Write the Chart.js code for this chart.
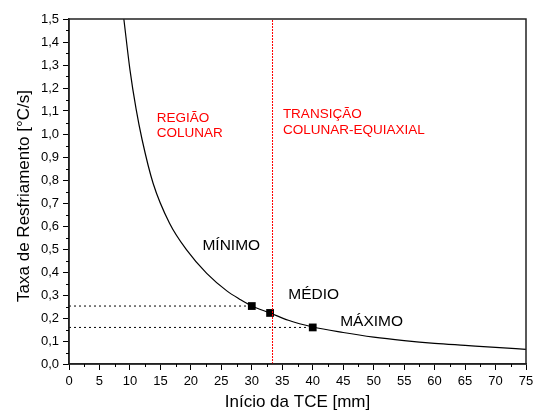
<!DOCTYPE html>
<html>
<head>
<meta charset="utf-8">
<script src="https://cdn.jsdelivr.net/npm/chart.js@4"></script>
<style>
  html, body { margin: 0; padding: 0; background: #fff; }
  #chart { width: 539px; height: 416px; }
</style>
</head>
<body>
<div id="chart"><canvas id="c" width="539" height="416"></canvas></div>
<script>
// curve
const curveX = [9, 10, 11, 12, 13.8, 16.5, 19.3, 22.6, 25.9, 28, 30, 33, 36, 40, 45, 50, 55, 60, 65, 70, 75];
const curveY = [1.50, 1.28, 1.11, 0.975, 0.786, 0.612, 0.496, 0.394, 0.318, 0.282, 0.252, 0.222, 0.19, 0.161, 0.137, 0.117, 0.102, 0.09, 0.081, 0.072, 0.064];

// MÍNIMO, MÉDIO, MÁXIMO
const pointX = [30, 33, 40];
const pointY = [0.252, 0.222, 0.159];

const transitionX = 33.4;
const xRange = [0, 75];
const yRange = [0, 1.5];

const regionLabels = [
  { lines: ['REGIÃO', 'COLUNAR'], x: 14.4, y: 1.054, color: '#ff0000', size: 13.5 },
  { lines: ['TRANSIÇÃO', 'COLUNAR-EQUIAXIAL'], x: 35.1, y: 1.068, color: '#ff0000', size: 13.5 },
  { lines: ['MÍNIMO'], x: 21.9, y: 0.496, color: '#000', size: 15.5 },
  { lines: ['MÉDIO'], x: 36.0, y: 0.283, color: '#000', size: 15.5 },
  { lines: ['MÁXIMO'], x: 44.5, y: 0.165, color: '#000', size: 15.5 }
];

const yTitle = 'Taxa de Resfriamento [°C/s]';
const FONT = '"Liberation Sans", Arial, sans-serif';

// frame, minor ticks, y title and text annotations
const extrasPlugin = {
  id: 'extras',
  afterDraw(chart) {
    const { ctx, chartArea: a, scales: { x, y } } = chart;
    ctx.save();
    ctx.strokeStyle = '#222';
    ctx.lineWidth = 1.5;
    ctx.strokeRect(a.left, a.top, a.right - a.left, a.bottom - a.top);

    // minor ticks
    ctx.lineWidth = 1;
    ctx.strokeStyle = '#000';
    ctx.beginPath();
    for (let v = 2.5; v < xRange[1]; v += 5) {
      const px = Math.round(x.getPixelForValue(v)) + 0.5;
      ctx.moveTo(px, a.bottom);
      ctx.lineTo(px, a.bottom + 3);
    }
    for (let v = 0.05; v < yRange[1]; v += 0.1) {
      const py = Math.round(y.getPixelForValue(v)) + 0.5;
      ctx.moveTo(a.left, py);
      ctx.lineTo(a.left - 3, py);
    }
    ctx.stroke();

    // y title, sits a bit below the middle in the original
    ctx.save();
    ctx.translate(29, 196);
    ctx.rotate(-Math.PI / 2);
    ctx.fillStyle = '#000';
    ctx.font = `17px ${FONT}`;
    ctx.textAlign = 'center';
    ctx.textBaseline = 'alphabetic';
    ctx.fillText(yTitle, 0, 0);
    ctx.restore();

    // labels
    ctx.textAlign = 'left';
    ctx.textBaseline = 'alphabetic';
    regionLabels.forEach(l => {
      ctx.fillStyle = l.color;
      ctx.font = `${l.size}px ${FONT}`;
      const px = x.getPixelForValue(l.x);
      const py = y.getPixelForValue(l.y);
      l.lines.forEach((t, i) => ctx.fillText(t, px, py + i * 15.5));
    });
    ctx.restore();
  }
};

const curve = curveX.map((v, i) => ({ x: v, y: curveY[i] }));
const points = pointX.map((v, i) => ({ x: v, y: pointY[i] }));

new Chart(document.getElementById('c'), {
  type: 'scatter',
  data: {
    datasets: [
      {
        label: 'nível mínimo',
        data: [{ x: xRange[0], y: pointY[0] }, points[0]],
        showLine: true,
        borderColor: '#000',
        borderWidth: 1,
        borderDash: [2, 3],
        pointRadius: 0
      },
      {
        label: 'nível máximo',
        data: [{ x: xRange[0], y: pointY[2] }, points[2]],
        showLine: true,
        borderColor: '#000',
        borderWidth: 1,
        borderDash: [2, 3],
        pointRadius: 0
      },
      {
        label: 'transição',
        data: [{ x: transitionX, y: yRange[0] }, { x: transitionX, y: yRange[1] }],
        showLine: true,
        borderColor: 'rgb(255, 0, 0)',
        backgroundColor: 'rgb(255, 0, 0)',
        borderWidth: 1,
        borderDash: [2, 1],
        pointRadius: 0
      },
      {
        label: 'curva',
        data: curve,
        showLine: true,
        borderColor: '#000',
        borderWidth: 1.2,
        cubicInterpolationMode: 'monotone',
        pointRadius: 0
      },
      {
        label: 'pontos',
        data: points,
        pointStyle: 'rect',
        pointRadius: 5.5,
        backgroundColor: '#000',
        borderColor: '#000',
        borderWidth: 0
      }
    ]
  },
  options: {
    responsive: false,
    animation: false,
    layout: { padding: { left: 0, top: 19, right: 13, bottom: 0 } },
    plugins: {
      legend: { display: false },
      tooltip: { enabled: false }
    },
    scales: {
      x: {
        type: 'linear',
        min: xRange[0],
        max: xRange[1],
        afterFit: s => { s.height = 52; },
        ticks: {
          stepSize: 5,
          color: '#000',
          padding: 4,
          maxRotation: 0,
          font: { family: FONT, size: 13 }
        },
        grid: { drawOnChartArea: false, tickLength: 6, tickColor: '#000' },
        border: { color: '#222', width: 1.5 },
        title: {
          display: true,
          text: 'Início da TCE [mm]',
          color: '#000',
          font: { family: FONT, size: 17 },
          padding: { top: 0, bottom: 3 }
        }
      },
      y: {
        min: yRange[0],
        max: yRange[1],
        afterFit: s => { s.width = 69; },
        ticks: {
          stepSize: 0.1,
          color: '#000',
          padding: 4,
          font: { family: FONT, size: 13 },
          callback: v => v.toFixed(1).replace('.', ',')
        },
        grid: { drawOnChartArea: false, tickLength: 6, tickColor: '#000' },
        border: { color: '#222', width: 1.5 }
      }
    }
  },
  plugins: [extrasPlugin]
});
</script>
</body>
</html>
